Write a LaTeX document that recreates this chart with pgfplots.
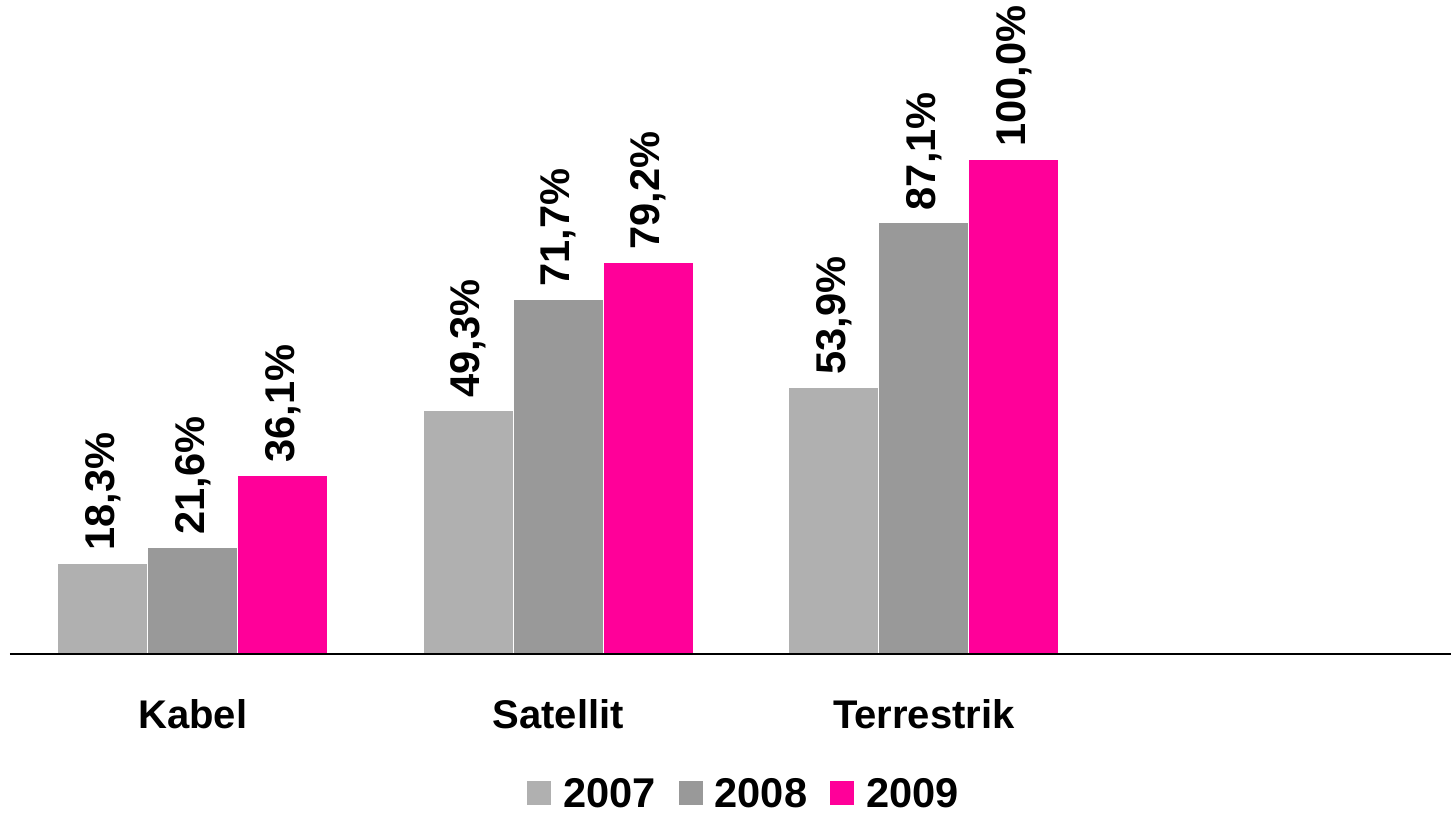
\documentclass[border=0pt]{standalone}
\usepackage{pgfplots}
\pgfplotsset{compat=1.18}
\usepackage{fontspec}
\setmainfont{Liberation Sans}
\definecolor{c2007}{HTML}{B0B0B0}
\definecolor{c2008}{HTML}{999999}
\definecolor{c2009}{HTML}{FF0099}

\begin{document}
\begin{tikzpicture}
\path[use as bounding box] (-5pt,-82pt) rectangle (720.5pt,327pt);
\begin{axis}[
    scale only axis,
    width=720.5pt,
    height=321.75pt,
    ybar=0pt,
    bar width=45pt,
    xmin=-0.5, xmax=3.442,
    ymin=0, ymax=130,
    axis on top,
    axis x line*=bottom,
    axis y line=none,
    x axis line style={line width=0.8pt},
    xtick={0,1,2},
    xticklabels={Kabel,Satellit,Terrestrik},
    major tick length=0pt,
    xticklabel style={font=\fontsize{20}{24}\selectfont\bfseries, anchor=base, yshift=-37.5pt},
    clip=false,
    /pgf/number format/assume math mode=true,
    nodes near coords={\pgfmathprintnumber[fixed,fixed zerofill,precision=1,use comma,assume math mode=true]{\pgfplotspointmeta}\%},
    every node near coord/.append style={font=\fontsize{20.8}{24}\selectfont\bfseries, rotate=90, anchor=west, inner sep=0pt, xshift=6pt, black},
    legend style={draw=none, fill=none, at={(0.510,-0.219)}, anchor=center,
        legend columns=-1, font=\fontsize{20.8}{24}\selectfont\bfseries,
        /tikz/every odd column/.append style={column sep=4pt},
        /tikz/every even column/.append style={column sep=9.5pt}},
    legend image code/.code={\fill[#1,draw=none] (0pt,-5pt) rectangle (12pt,7pt);},
    every axis plot/.append style={draw=white, line width=0.6pt},
]
\addplot[fill=c2007] coordinates {(0,18.3) (1,49.3) (2,53.9)};
\addlegendentry{2007}
\addplot[fill=c2008] coordinates {(0,21.6) (1,71.7) (2,87.1)};
\addlegendentry{2008}
\addplot[fill=c2009] coordinates {(0,36.1) (1,79.2) (2,100.0)};
\addlegendentry{2009}
\end{axis}
\end{tikzpicture}
\end{document}
